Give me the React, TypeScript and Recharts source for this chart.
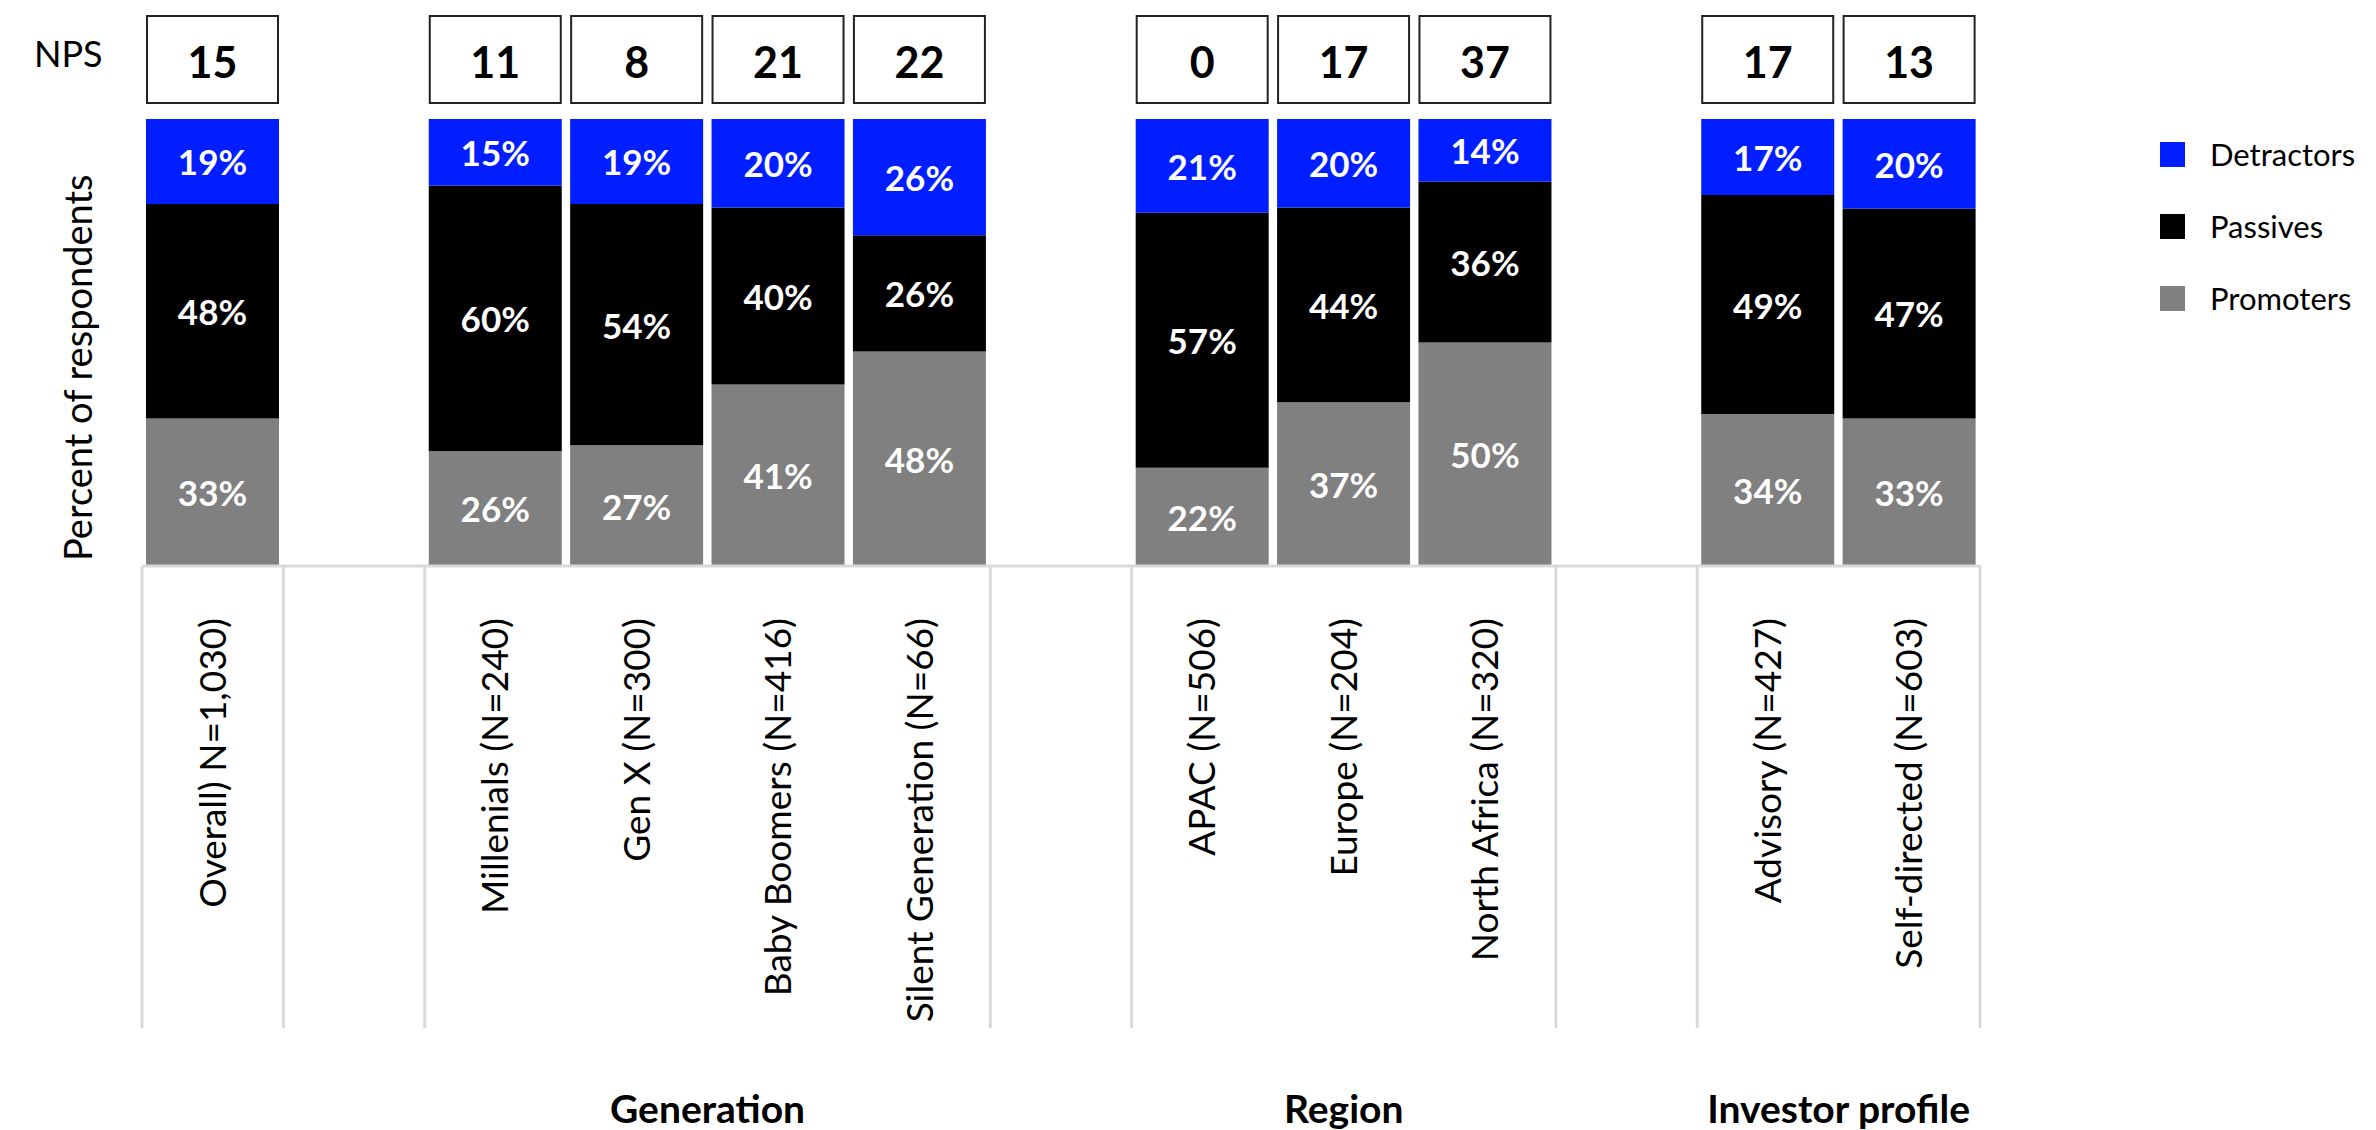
import { BarChart, Bar, XAxis, YAxis, Legend, LabelList } from "recharts";

const categories = [
  "Overall) N=1,030)",
  "",
  "Millenials (N=240)",
  "Gen X (N=300)",
  "Baby Boomers (N=416)",
  "Silent Generation (N=66)",
  "",
  "APAC (N=506)",
  "Europe (N=204)",
  "North Africa (N=320)",
  "",
  "Advisory (N=427)",
  "Self-directed (N=603)",
];
const detractors = [19, null, 15, 19, 20, 26, null, 21, 20, 14, null, 17, 20];
const passives = [48, null, 60, 54, 40, 26, null, 57, 44, 36, null, 49, 47];
const promoters = [33, null, 26, 27, 41, 48, null, 22, 37, 50, null, 34, 33];
const nps = [15, null, 11, 8, 21, 22, null, 0, 17, 37, null, 17, 13];
// -1 = empty spacer slot
const categoryGroup = [0, -1, 1, 1, 1, 1, -1, 2, 2, 2, -1, 3, 3];
const groupNames = ["", "Generation", "Region", "Investor profile"];

const data = categories.map((name, i) => ({
  name,
  detractors: detractors[i],
  passives: passives[i],
  promoters: promoters[i],
  nps: nps[i],
}));

const WIDTH = 2376;
const HEIGHT = 1130;
const TOP = 119;
const LEFT = 142;
const PLOT_W = 1838;
const PLOT_H = 447;
const AXIS_Y = TOP + PLOT_H;
const GRID = "#d9d9d9";
const BLUE = "#001eff";
const GREY = "#808080";

const CategoryTick = (props: any) => {
  const { x, index, payload } = props;
  const g = categoryGroup[index];
  if (g < 0) return null;
  const slot = PLOT_W / categories.length;
  const first = index === 0 || categoryGroup[index - 1] !== g;
  const last =
    index === categories.length - 1 || categoryGroup[index + 1] !== g;
  const members = categoryGroup.filter((v) => v === g).length;
  return (
    <g>
      {first && (
        <line
          x1={x - slot / 2}
          x2={x - slot / 2}
          y1={AXIS_Y}
          y2={1028}
          stroke={GRID}
          strokeWidth={3}
        />
      )}
      {last && (
        <line
          x1={x + slot / 2}
          x2={x + slot / 2}
          y1={AXIS_Y}
          y2={1028}
          stroke={GRID}
          strokeWidth={3}
        />
      )}
      <text
        transform={`translate(${x + 13},${AXIS_Y + 52}) rotate(-90)`}
        textAnchor="end"
        fontSize={37}
        fill="#000"
      >
        {payload.value}
      </text>
      {first && groupNames[g] && (
        <text
          x={x + ((members - 1) * slot) / 2}
          y={1123}
          textAnchor="middle"
          fontSize={39}
          fontWeight="bold"
          fill="#000"
        >
          {groupNames[g]}
        </text>
      )}
    </g>
  );
};

const percentLabel = (props: any) => {
  const { value } = props;
  if (value === null || value === undefined) return null;
  const vb = props.viewBox || props;
  return (
    <text
      x={vb.x + vb.width / 2}
      y={vb.y + vb.height / 2}
      textAnchor="middle"
      dominantBaseline="central"
      fill="#fff"
      fontWeight="bold"
      fontSize={35}
    >
      {value}%
    </text>
  );
};

const npsBox = (props: any) => {
  const { value } = props;
  if (value === null || value === undefined) return null;
  const vb = props.viewBox || props;
  const h = 87;
  const gap = 16;
  return (
    <g>
      <rect
        x={vb.x + 1}
        y={vb.y - gap - h}
        width={vb.width - 2}
        height={h}
        fill="#fff"
        stroke="#222"
        strokeWidth={2}
      />
      <text
        x={vb.x + vb.width / 2}
        y={vb.y - gap - h / 2 + 2}
        textAnchor="middle"
        dominantBaseline="central"
        fill="#000"
        fontWeight="bold"
        fontSize={43}
      >
        {value}
      </text>
    </g>
  );
};

const LegendList = ({ payload }: any) => (
  <div>
    {(payload || []).map((item: any) => (
      <div
        key={item.value}
        style={{ display: "flex", alignItems: "center", height: 72 }}
      >
        <span
          style={{
            width: 25,
            height: 25,
            background: item.color,
            marginRight: 25,
            display: "inline-block",
          }}
        />
        <span style={{ fontSize: 31, color: "#000" }}>{item.value}</span>
      </div>
    ))}
  </div>
);

export default function App() {
  return (
    <div
      style={{
        position: "absolute",
        left: 0,
        top: 0,
        width: WIDTH,
        height: HEIGHT,
        background: "#fff",
        fontFamily: "Lato, 'Open Sans', sans-serif",
      }}
    >
      <BarChart
        width={WIDTH}
        height={HEIGHT}
        data={data}
        stackOffset="expand"
        barSize={133}
        margin={{ top: TOP, left: LEFT, right: WIDTH - LEFT - PLOT_W, bottom: 0 }}
      >
        <XAxis
          dataKey="name"
          interval={0}
          height={HEIGHT - TOP - PLOT_H}
          axisLine={{ stroke: GRID, strokeWidth: 3 }}
          tickLine={false}
          tick={<CategoryTick />}
        />
        <YAxis hide domain={[0, 1]} />
        <Legend
          layout="vertical"
          align="center"
          verticalAlign="middle"
          content={<LegendList />}
          wrapperStyle={{ left: 2160, top: 118, width: 216 }}
        />
        <Bar
          dataKey="promoters"
          name="Promoters"
          stackId="a"
          fill={GREY}
          isAnimationActive={false}
        >
          <LabelList dataKey="promoters" content={percentLabel} />
        </Bar>
        <Bar
          dataKey="passives"
          name="Passives"
          stackId="a"
          fill="#000"
          isAnimationActive={false}
        >
          <LabelList dataKey="passives" content={percentLabel} />
        </Bar>
        <Bar
          dataKey="detractors"
          name="Detractors"
          stackId="a"
          fill={BLUE}
          isAnimationActive={false}
        >
          <LabelList dataKey="detractors" content={percentLabel} />
          <LabelList dataKey="nps" content={npsBox} />
        </Bar>
        <text x={34} y={67} fontSize={36} fill="#000">
          NPS
        </text>
        <text
          transform="translate(92,561) rotate(-90)"
          fontSize={38}
          fill="#000"
        >
          Percent of respondents
        </text>
      </BarChart>
    </div>
  );
}
